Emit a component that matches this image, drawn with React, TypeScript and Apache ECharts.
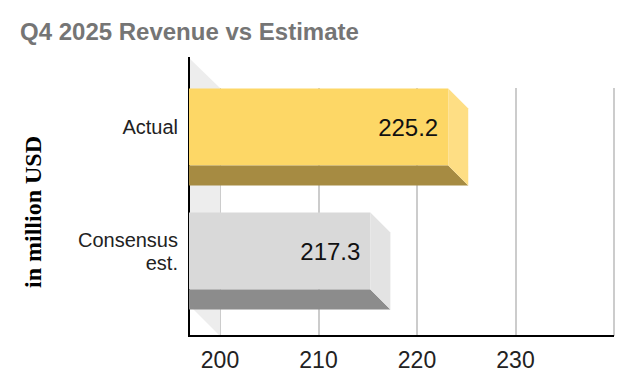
import React, { useEffect, useRef } from "react";
import * as echarts from "echarts";

const categories = ["Actual", "Consensus\nest."];
const values = [225.2, 217.3];
const labels = ["225.2", "217.3"];
const xTicks = [200, 210, 220, 230, 240];

const faceColors = ["#fdd766", "#d9d9d9"];
const sideColors = ["#fede84", "#e3e3e3"];
const bottomColors = ["#a68b42", "#8c8c8c"];

const WALL_DX = 31;
const WALL_DY = 30;
const DEPTH = 20;

export default function App() {
  const ref = useRef<HTMLDivElement>(null);
  useEffect(() => {
    if (!ref.current) return;
    const chart = echarts.init(ref.current, undefined, { renderer: "svg" });
    const font = "'Liberation Sans', Arial, sans-serif";
    chart.setOption({
      animation: false,
      title: {
        text: "Q4 2025 Revenue vs Estimate",
        left: 7,
        top: 6,
        textStyle: { fontFamily: font, fontSize: 24, fontWeight: "bold", color: "#757575" },
      },
      grid: {
        left: 212,
        right: 12,
        top: 80,
        bottom: 48,
        containLabel: false,
        outerBoundsMode: "none",
      },
      xAxis: {
        type: "value",
        min: xTicks[0],
        max: xTicks[xTicks.length - 1],
        interval: 10,
        axisLine: { show: false },
        axisTick: { show: false },
        splitLine: { show: true, lineStyle: { color: "#cccccc", width: 2 } },
        axisLabel: {
          showMaxLabel: false,
          fontFamily: font,
          fontSize: 23,
          color: "#222",
          margin: 12,
        },
      },
      yAxis: {
        type: "category",
        inverse: true,
        data: categories,
        axisLine: { show: false },
        axisTick: { show: false },
        axisLabel: {
          fontFamily: font,
          fontSize: 20,
          lineHeight: 23,
          color: "#222",
          margin: 42,
          formatter: (v: string) => v + "\n \n ",
        },
        name: "in million USD",
        nameLocation: "middle",
        nameRotate: 90,
        nameGap: 175,
        nameTextStyle: {
          fontFamily: "'Liberation Serif', 'Times New Roman', serif",
          fontWeight: "bold",
          fontSize: 24,
          color: "#000",
        },
      },
      series: [
        {
          type: "custom",
          z: 1,
          silent: true,
          data: [[xTicks[0], 0]],
          renderItem: (params: any, api: any) => {
            const cs = params.coordSys;
            const x = cs.x, y = cs.y, w = cs.width, h = cs.height;
            return {
              type: "group",
              children: [
                {
                  type: "polygon",
                  shape: {
                    points: [
                      [x - WALL_DX, y - WALL_DY],
                      [x, y],
                      [x, y + h],
                      [x - WALL_DX, y + h - WALL_DY - 1],
                    ],
                  },
                  style: { fill: "#ededed" },
                },
                {
                  type: "line",
                  shape: { x1: x - WALL_DX, y1: y - WALL_DY - 1, x2: x - WALL_DX, y2: y + h },
                  style: { stroke: "#000", lineWidth: 2 },
                },
                {
                  type: "line",
                  shape: { x1: x - WALL_DX - 1, y1: y + h, x2: x + w, y2: y + h },
                  style: { stroke: "#000", lineWidth: 2 },
                },
              ],
            };
          },
        },
        {
          type: "custom",
          z: 2,
          data: values.map((v, i) => [v, i]),
          renderItem: (params: any, api: any) => {
            const i = params.dataIndex;
            const v = api.value(0);
            const cat = api.value(1);
            const end = api.coord([v, cat]);
            const start = api.coord([xTicks[0], cat]);
            const band = api.size([0, 1])[1];
            const bh = band * 0.62;
            const cy = end[1] - 3;
            const bt = cy - bh / 2;
            const bb = bt + bh;
            const x0 = start[0] - WALL_DX;
            const xe = end[0];
            const x1 = xe - DEPTH;
            return {
              type: "group",
              children: [
                {
                  type: "rect",
                  shape: { x: x0, y: bt - DEPTH, width: x1 - x0, height: bh },
                  style: { fill: faceColors[i] },
                },
                {
                  type: "polygon",
                  shape: {
                    points: [
                      [x0, bb - DEPTH],
                      [x1, bb - DEPTH],
                      [xe, bb],
                      [x0, bb],
                    ],
                  },
                  style: { fill: bottomColors[i] },
                },
                {
                  type: "polygon",
                  shape: {
                    points: [
                      [x1, bt - DEPTH],
                      [xe, bt],
                      [xe, bb],
                      [x1, bb - DEPTH],
                    ],
                  },
                  style: { fill: sideColors[i] },
                },
                {
                  type: "text",
                  style: {
                    text: labels[i],
                    x: x1 - 10,
                    y: bt - DEPTH + bh / 2,
                    align: "right",
                    verticalAlign: "middle",
                    fontFamily: font,
                    fontSize: 24,
                    fill: "#111",
                  },
                },
              ],
            };
          },
        },
      ],
    });
    return () => chart.dispose();
  }, []);
  return <div ref={ref} style={{ width: 618, height: 376 }} />;
}
